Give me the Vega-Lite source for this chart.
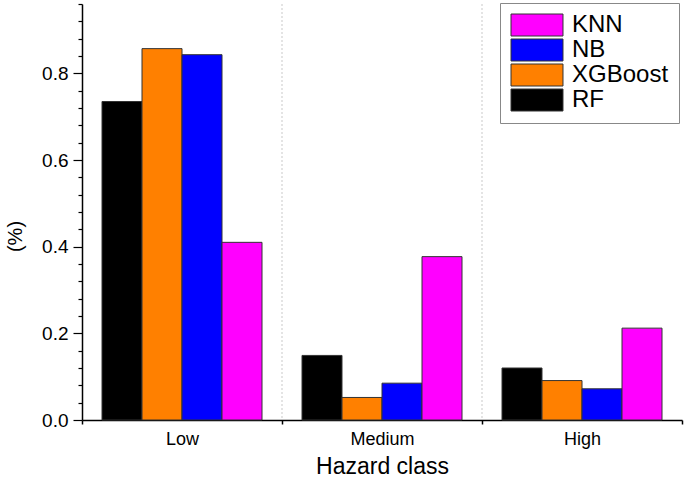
{
  "$schema": "https://vega.github.io/schema/vega-lite/v6.json",
  "width": 600,
  "height": 416,
  "autosize": "none",
  "padding": {"left": 82, "top": 4, "right": 3, "bottom": 61},
  "background": "white",
  "config": {"view": {"stroke": null}, "font": "Liberation Sans"},
  "data": {
    "values": [
      {"class": "Low", "model": "RF", "value": 0.735},
      {"class": "Low", "model": "XGBoost", "value": 0.857},
      {"class": "Low", "model": "NB", "value": 0.843},
      {"class": "Low", "model": "KNN", "value": 0.41},
      {"class": "Medium", "model": "RF", "value": 0.149},
      {"class": "Medium", "model": "XGBoost", "value": 0.052},
      {"class": "Medium", "model": "NB", "value": 0.085},
      {"class": "Medium", "model": "KNN", "value": 0.377},
      {"class": "High", "model": "RF", "value": 0.12},
      {"class": "High", "model": "XGBoost", "value": 0.091},
      {"class": "High", "model": "NB", "value": 0.072},
      {"class": "High", "model": "KNN", "value": 0.212}
    ]
  },
  "encoding": {
    "x": {
      "field": "class",
      "type": "nominal",
      "sort": ["Low", "Medium", "High"],
      "scale": {"paddingInner": 0, "paddingOuter": 0},
      "axis": {
        "title": "Hazard class",
        "labelAngle": 0,
        "labelFontSize": 18,
        "labelColor": "#000000",
        "titleFontSize": 23,
        "titleFontWeight": "normal",
        "titleColor": "#000000",
        "domainColor": "#000000",
        "domainWidth": 1.5,
        "tickColor": "#000000",
        "tickWidth": 1.5,
        "tickSize": 4,
        "tickBand": "extent",
        "grid": false,
        "labelPadding": 6,
        "titlePadding": 7,
        "encode": {"ticks": {"update": {"y": {"value": -4}, "y2": {"value": 4}}}}
      }
    }
  },
  "layer": [
    {
      "transform": [{"filter": "datum.model == 'RF' && datum.class != 'Low'"}],
      "mark": {"type": "rule", "color": "#bbbbbb", "strokeDash": [2, 2], "strokeWidth": 0.8},
      "encoding": {
        "x": {"field": "class", "type": "nominal", "sort": ["Low", "Medium", "High"], "bandPosition": 0}
      }
    },
    {
      "mark": {"type": "bar", "stroke": "#333333", "strokeWidth": 1},
      "encoding": {
        "xOffset": {
          "field": "model",
          "type": "nominal",
          "sort": ["RF", "XGBoost", "NB", "KNN"],
          "scale": {"paddingInner": 0, "paddingOuter": 0.5}
        },
        "y": {
          "field": "value",
          "type": "quantitative",
          "scale": {"domain": [0, 0.96], "nice": false},
          "axis": {
            "title": "(%)",
            "orient": "left",
            "values": [0, 0.2, 0.4, 0.6, 0.8],
            "format": ".1f",
            "labelOverlap": false,
            "labelFontSize": 19,
            "labelColor": "#000000",
            "labelPadding": 5,
            "grid": false,
            "domainColor": "#000000",
            "domainWidth": 1.5,
            "tickColor": "#000000",
            "tickWidth": 1.2,
            "tickSize": 9,
            "titleFontSize": 20,
            "titleFontWeight": "normal",
            "titleColor": "#000000",
            "titleX": -67,
            "titleY": 232,
            "titleBaseline": "middle",
            "titleAlign": "center",
            "titleAngle": -90
          }
        },
        "color": {
          "field": "model",
          "type": "nominal",
          "scale": {"domain": ["KNN", "NB", "XGBoost", "RF"], "range": ["#FF00FF", "#0000FF", "#FF8000", "#000000"]},
          "legend": {
            "title": null,
            "orient": "none",
            "legendX": 418,
            "legendY": -1,
            "symbolType": "M-1,-1H3.727V1H-1Z",
            "symbolSize": 484,
            "symbolStrokeColor": "#333333",
            "symbolStrokeWidth": 1,
            "symbolOpacity": 1,
            "labelFontSize": 24,
            "labelColor": "#000000",
            "labelOffset": 38,
            "rowPadding": -5,
            "padding": 10,
            "strokeColor": "#888888",
            "fillColor": "white"
          }
        }
      }
    },
    {
      "mark": {"type": "bar", "opacity": 0},
      "encoding": {
        "xOffset": {"field": "model", "type": "nominal", "sort": ["RF", "XGBoost", "NB", "KNN"]},
        "y": {
          "field": "value",
          "type": "quantitative",
          "axis": {
            "title": null,
            "orient": "left",
            "values": [0.04, 0.08, 0.12, 0.16, 0.24, 0.28, 0.32, 0.36, 0.44, 0.48, 0.52, 0.56, 0.64, 0.68, 0.72, 0.76, 0.84, 0.88, 0.92, 0.96],
            "labels": false,
            "domain": false,
            "grid": false,
            "tickColor": "#000000",
            "tickWidth": 1.2,
            "tickSize": 4
          }
        }
      }
    }
  ],
  "resolve": {"axis": {"y": "independent"}}
}
